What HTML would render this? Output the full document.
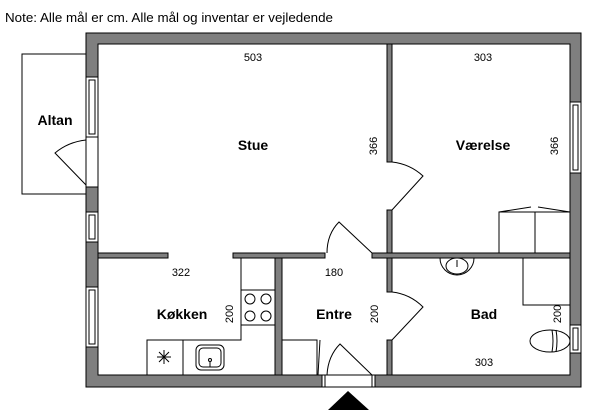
<!DOCTYPE html>
<html><head><meta charset="utf-8"><style>
body{margin:0;background:#fff;}
svg{display:block;font-family:"Liberation Sans",sans-serif;}
.w{fill:#7f7f7f;stroke:#000;stroke-width:1}
.l{fill:none;stroke:#000;stroke-width:1}
.win{fill:#fff;stroke:#000;stroke-width:1}
.t{font-size:11px;text-anchor:middle}
.b{font-size:14px;font-weight:bold;text-anchor:middle}
</style></head><body>
<svg width="600" height="420" viewBox="0 0 600 420">
<text x="5" y="22" font-size="13" textLength="328" lengthAdjust="spacingAndGlyphs">Note: Alle mål er cm. Alle mål og inventar er vejledende</text>
<!-- Altan -->
<rect x="22" y="54" width="64" height="140" class="l" stroke="#444"/>
<!-- outer walls -->
<path class="w" fill-rule="evenodd" d="M86,33 H581 V387 H375 V375 H570 V44 H98 V375 H322 V387 H86 Z"/>
<!-- entrance threshold -->
<rect x="322" y="375" width="53" height="12" fill="#fff" stroke="#000"/>
<line x1="325" y1="375" x2="325" y2="387" class="l"/><line x1="372" y1="375" x2="372" y2="387" class="l"/>
<!-- left windows/door -->
<rect x="86" y="77" width="12" height="60" class="win"/><rect x="89" y="80" width="6" height="54" class="win"/>
<rect x="86" y="137" width="12" height="50" fill="#fff" stroke="#000"/>
<rect x="86" y="212" width="12" height="30" class="win"/><rect x="89" y="215" width="6" height="24" class="win"/>
<rect x="86" y="287" width="12" height="60" class="win"/><rect x="89" y="290" width="6" height="54" class="win"/>
<path class="l" d="M86,185 L55,153 Q68,142 86,140"/>
<!-- right windows -->
<rect x="570" y="102" width="11" height="71" class="win"/><rect x="573" y="105" width="5" height="65" class="win"/>
<rect x="570" y="325" width="11" height="28" class="win"/><rect x="573" y="328" width="5" height="22" class="win"/>
<!-- interior walls -->
<rect x="387" y="44" width="5" height="118" class="w"/>
<rect x="387" y="210" width="5" height="43" class="w"/>
<rect x="98" y="253" width="70" height="5" class="w"/>
<rect x="233" y="253" width="92" height="5" class="w"/>
<rect x="372" y="253" width="198" height="5" class="w"/>
<rect x="275" y="258" width="7" height="117" class="w"/>
<rect x="387" y="258" width="5" height="34" class="w"/>
<rect x="387" y="340" width="5" height="35" class="w"/>
<!-- doors -->
<path class="l" d="M392,210 L423,176 Q410,164 392,162"/>
<path class="l" d="M372,253 L339,222 Q327,234 327,253"/>
<path class="l" d="M392,340 L423,307 Q410,294 392,292"/>
<path class="l" d="M372,375 L340,344 Q328,356 327,375"/>
<line x1="320" y1="340" x2="318" y2="375" class="l"/>
<polygon points="348,391 328,410 369,410" fill="#000"/>
<!-- kitchen -->
<path class="l" d="M241,258 V340 H147 V375"/>
<line x1="183" y1="340" x2="183" y2="375" class="l"/>
<rect x="241" y="290" width="34" height="35" class="l"/>
<circle cx="250" cy="299" r="5" class="l"/><circle cx="266" cy="299" r="5" class="l"/>
<circle cx="250" cy="316" r="5" class="l"/><circle cx="266" cy="316" r="5" class="l"/>
<rect x="196" y="345" width="28" height="25" rx="5" class="l"/><rect x="199" y="348" width="22" height="19" rx="4" class="l"/>
<circle cx="210" cy="360" r="1.5" class="l"/><line x1="210" y1="362" x2="210" y2="367" class="l"/>
<path class="l" d="M157,357 H171 M164,350 V364 M159,352 L169,362 M169,352 L159,362"/>
<!-- entre box -->
<rect x="282" y="340" width="35" height="35" class="l"/>
<!-- wardrobe -->
<rect x="499" y="212" width="71" height="41" class="l"/>
<line x1="535" y1="212" x2="535" y2="253" class="l"/>
<path class="l" d="M499,212 L531,207 M538,207 L570,212"/>
<!-- bad -->
<path class="l" d="M440,258 A17,17 0 1 0 474,258"/>
<ellipse cx="457" cy="266" rx="11" ry="8" class="l"/>
<line x1="457" y1="260" x2="457" y2="267" class="l"/>
<rect x="523" y="258" width="47" height="47" class="l"/>
<ellipse cx="550" cy="341" rx="20" ry="11" class="l"/>
<path class="l" d="M552,330 Q554,341 552,352 M556,330 Q558,341 556,352"/>
<!-- labels -->
<text x="253" y="61" class="t">503</text>
<text x="483" y="61" class="t">303</text>
<text x="253" y="150" class="b">Stue</text>
<text x="483" y="150" class="b">Værelse</text>
<text x="55" y="125" class="b">Altan</text>
<text class="t" transform="translate(377,146) rotate(-90)">366</text>
<text class="t" transform="translate(558,146) rotate(-90)">366</text>
<text x="181" y="276" class="t">322</text>
<text x="334" y="276" class="t">180</text>
<text x="182" y="319" class="b">Køkken</text>
<text x="334" y="319" class="b">Entre</text>
<text x="484" y="319" class="b">Bad</text>
<text class="t" transform="translate(233,314) rotate(-90)">200</text>
<text class="t" transform="translate(378,314) rotate(-90)">200</text>
<text class="t" transform="translate(561,314) rotate(-90)">200</text>
<text x="484" y="366" class="t">303</text>
</svg>
</body></html>
